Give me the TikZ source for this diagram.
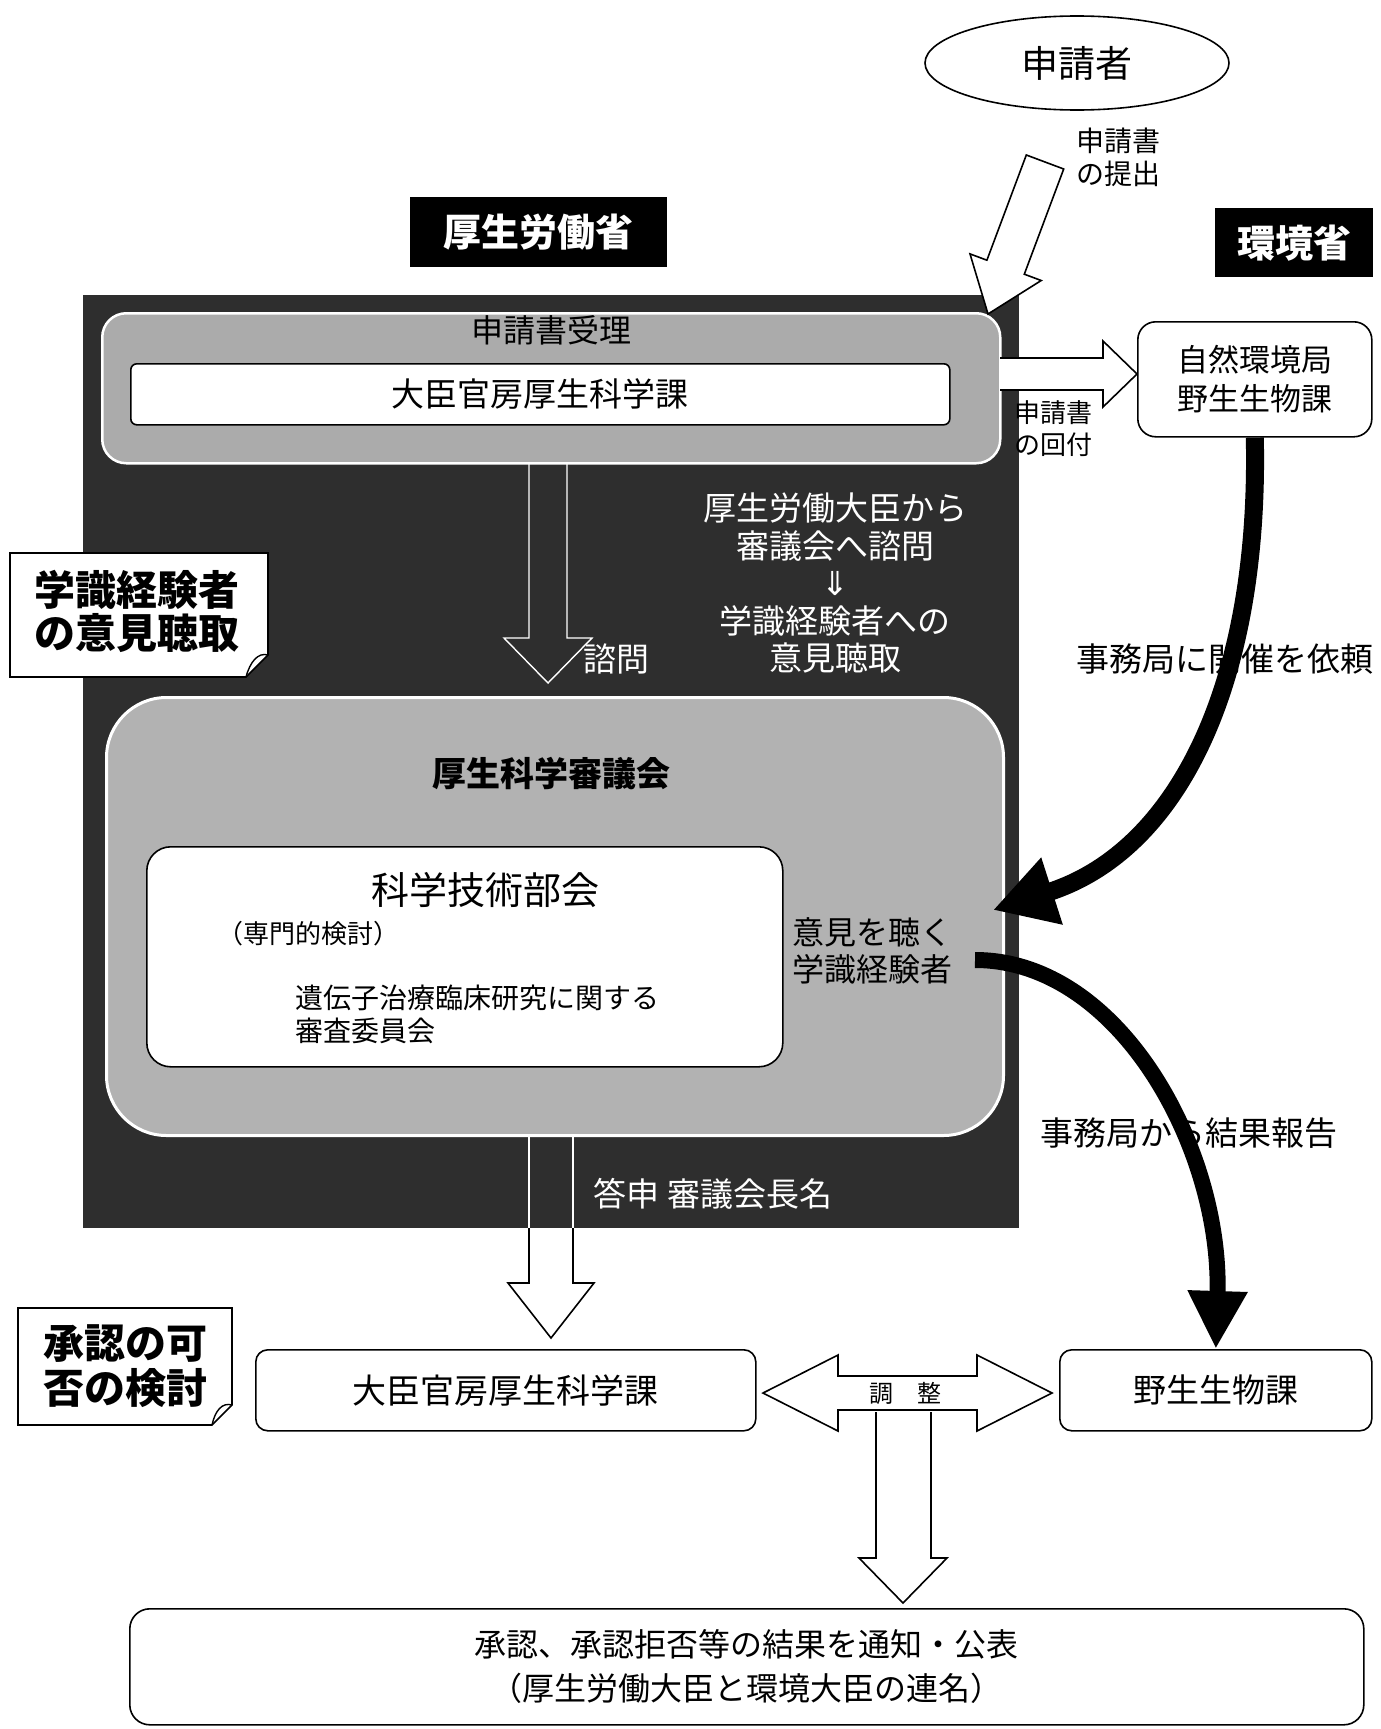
\documentclass[tikz,border=0pt]{standalone}
\usepackage{fontspec}
\setmainfont{Noto Sans CJK JP}
\newfontfamily\dvfont{DejaVu Sans}
\usetikzlibrary{shapes.geometric,arrows.meta,calc}
\newcommand\fsz[2]{\fontsize{#1}{#2}\selectfont}
\begin{document}
\begin{tikzpicture}[x=1pt,y=-1pt,
  box/.style={draw, line width=1.6pt, fill=white, inner sep=0pt},
  blk/.style={draw, line width=1.6pt, fill=white, line join=miter},
  hollowin/.style={draw=white, line width=1.4pt, line join=miter},
  darklabel/.style={fill=black, text=white, inner sep=0pt, font=\bfseries\fsz{38}{40}},
  callout/.style={draw, line width=1.6pt, fill=white},
  callouttext/.style={align=center, font=\bfseries\fsz{41}{43}},
  thick arrow/.style={line width=#1, draw=black},
]
\useasboundingbox (0,0) rectangle (1381,1729);
\fill[white] (0,0) rectangle (1381,1729);

% arrow from council down to bottom box (lower part visible)
\draw[blk] (529,1200) -- (529,1283) -- (508,1283) -- (551,1338) -- (594,1283) -- (573,1283) -- (573,1200);

% big dark MHLW area
\node[fill=black!82, inner sep=0pt, minimum width=936pt, minimum height=933pt, anchor=north west] (mhlw) at (83,295) {};

% top receipt box
\node[fill=black!33, draw=white, line width=2.5pt, rounded corners=24pt, inner sep=0pt,
      minimum width=898pt, minimum height=150pt, anchor=north west] (receipt) at (101,312) {};
\node[font=\fsz{32}{34}] (receipttext) at (551,330) {申請書受理};
\node[box, rounded corners=6pt, minimum width=819pt, minimum height=61pt, anchor=north west,
      font=\fsz{33}{35}] (kagaku1) at (130,363) {};
\node[font=\fsz{33}{35}] at (kagaku1.center) {大臣官房厚生科学課};

% hollow arrow inside dark area (consultation)
\draw[hollowin] (529,462) -- (529,638) -- (504,638) -- (548,683) -- (592,638) -- (567,638) -- (567,462);
\node[text=white, font=\fsz{33}{35}] (shimon) at (616,659) {諮問};
\node[text=white, align=center, font=\fsz{33}{37.5}] (consult) at (835,583)
  {厚生労働大臣から\\審議会へ諮問\\{\dvfont ⇓}\\学識経験者への\\意見聴取};

% council box
\node[fill=black!30, draw=white, line width=3pt, rounded corners=60pt, inner sep=0pt,
      minimum width=897pt, minimum height=438pt, anchor=north west] (council) at (105,696) {};
\node[font=\bfseries\fsz{34}{36}] (counciltext) at (551,774) {厚生科学審議会};
\node[box, rounded corners=24pt, minimum width=636pt, minimum height=220pt, anchor=north west] (bukai) at (146,846) {};
\node[font=\fsz{38}{40}] (bukaititle) at (485,890) {科学技術部会};
\node[font=\fsz{26}{28}, anchor=west] (senmon) at (214,934) {（専門的検討）};
\node[font=\fsz{28}{33}, anchor=north west, align=left] (iden) at (292,981) {遺伝子治療臨床研究に関する\\審査委員会};
\node[align=center, font=\fsz{32}{37}] (opinion) at (872,951) {意見を聴く\\学識経験者};

% white lines of the lower arrow shaft within the dark area
\draw[draw=white, line width=1.4pt] (529,1134) -- (529,1228);
\draw[draw=white, line width=1.4pt] (573,1134) -- (573,1228);
\node[text=white, font=\fsz{33}{35}] (toshin) at (713,1194) {答申 審議会長名};

% ministry labels
\node[darklabel, minimum width=257pt, minimum height=70pt, anchor=north west] (mhlwlabel) at (410,197) {厚生労働省};
\node[darklabel, minimum width=158pt, minimum height=69pt, anchor=north west] (moelabel) at (1215,208) {環境省};

% applicant
\node[ellipse, draw, line width=1.6pt, minimum width=304pt, minimum height=94pt, font=\fsz{37}{39}] (applicant) at (1077,63) {申請者};
\node[align=center, font=\fsz{28}{33}] (submit) at (1118,157) {申請書\\の提出};
\draw[blk] (1026.3,155.0) -- (986.9,260.2) -- (970.0,253.9) -- (988,314) -- (1041.2,280.5) -- (1024.3,274.2) -- (1063.7,169.0) -- cycle;

% nature conservation bureau
\node[box, rounded corners=18pt, minimum width=234pt, minimum height=115pt, anchor=north west] (nature) at (1137,321) {};
\node[align=center, font=\fsz{31}{39}] at (nature.center) {自然環境局\\野生生物課};
\draw[blk] (1000,358) -- (1103,358) -- (1103,341) -- (nature.west |- 0,374) -- (1103,407) -- (1103,390) -- (1000,390);
\node[align=center, font=\fsz{26}{32}] (forward) at (1053,429) {申請書\\の回付};

% callout 1
\draw[callout] (10,553) -- (268,553) -- (268,655) -- (246,677) -- (10,677) -- cycle;
\draw[line width=1.4pt] (268,655) .. controls (258,652) and (250,662) .. (246,677);
\node[callouttext] (callout1) at (137,611) {学識経験者\\の意見聴取};

% callout 2
\draw[callout] (18,1308) -- (232,1308) -- (232,1405) -- (212,1425) -- (18,1425) -- cycle;
\draw[line width=1.4pt] (232,1405) .. controls (222,1402) and (215,1411) .. (212,1425);
\node[callouttext, font=\bfseries\fsz{41}{45}] (callout2) at (125,1366) {承認の可\\否の検討};

% bottom boxes
\node[box, rounded corners=12pt, minimum width=500pt, minimum height=81pt, anchor=north west] (kagaku2) at (255,1349) {};
\node[font=\fsz{34}{36}] at (kagaku2.center) {大臣官房厚生科学課};
\node[box, rounded corners=12pt, minimum width=312pt, minimum height=81pt, anchor=north west] (wild2) at (1059,1349) {};
\node[font=\fsz{33}{35}] at (wild2.center) {野生生物課};

% coordination double arrow
\draw[blk] (763,1393) -- (838,1355) -- (838,1376) -- (977,1376) -- (977,1355) -- (1052,1393)
  -- (977,1431) -- (977,1410) -- (838,1410) -- (838,1431) -- cycle;
\node[font=\fsz{24}{26}] (chosei) at (905,1393) {調　整};
\draw[blk] (876,1412) -- (876,1558) -- (859,1558) -- (903,1603) -- (947,1558) -- (931,1558) -- (931,1412);

% result box
\node[box, rounded corners=20pt, minimum width=1234pt, minimum height=116pt, anchor=north west] (result) at (129,1608) {};
\node[align=center, font=\fsz{32}{44}] at (result.center) {承認、承認拒否等の結果を通知・公表\\（厚生労働大臣と環境大臣の連名）};

% thick curved arrows
\coordinate (askin) at (993,910);
\coordinate (askout) at (975,960);
\draw[thick arrow=18pt, -{Triangle[length=62pt,width=66pt]}] (nature.south) .. controls (1260,680) and (1180,850) .. (askin);
\draw[thick arrow=16pt, -{Triangle[length=58pt,width=56pt]}] (askout) .. controls (1120,960) and (1222,1150) .. (wild2.north);
\node[font=\fsz{33}{35}] (request) at (1225,659) {事務局に開催を依頼};
\node[font=\fsz{33}{35}] (report) at (1189,1133) {事務局から結果報告};
\end{tikzpicture}
\end{document}
